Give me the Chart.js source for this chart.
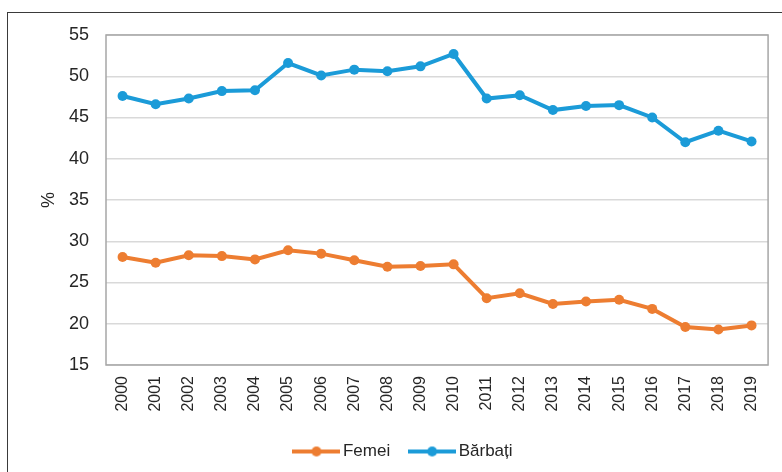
<!DOCTYPE html>
<html lang="ro">
<head>
<meta charset="utf-8">
<script src="https://cdn.jsdelivr.net/npm/chart.js@4.4.1/dist/chart.umd.min.js"></script>
<style>
  body { margin: 0; background: #fff; }
  #wrap { position: relative; width: 782px; height: 472px; }
  #frame { position: absolute; left: 7px; top: 12px; right: -2px; bottom: -2px;
           border-top: 1px solid #3a3a3a; border-left: 1px solid #3a3a3a; pointer-events: none; }
  canvas { position: absolute; left: 0; top: 0; }
</style>
</head>
<body>
<div id="wrap">
  <canvas id="grafic" width="782" height="472"></canvas>
  <div id="frame"></div>
</div>
<script>
// Ani si valori (%)
const ani = ['2000', '2001', '2002', '2003', '2004', '2005', '2006', '2007', '2008', '2009',
             '2010', '2011', '2012', '2013', '2014', '2015', '2016', '2017', '2018', '2019'];
const femei = [28.1, 27.4, 28.3, 28.2, 27.8, 28.9, 28.5, 27.7, 26.9, 27.0,
               27.2, 23.1, 23.7, 22.4, 22.7, 22.9, 21.8, 19.6, 19.3, 19.8];
const barbati = [47.6, 46.6, 47.3, 48.2, 48.3, 51.6, 50.1, 50.8, 50.6, 51.2,
                 52.7, 47.3, 47.7, 45.9, 46.4, 46.5, 45.0, 42.0, 43.4, 42.1];
const ticksY = [15, 20, 25, 30, 35, 40, 45, 50, 55];

const culoareFemei = '#ED7D31';
const culoareBarbati = '#1B9BD8';
const textColor = '#262626';

// marcaj legenda: linie + cerc
function markerLegenda(color) {
  const c = document.createElement('canvas');
  c.width = 48; c.height = 14;
  const g = c.getContext('2d');
  g.strokeStyle = color; g.lineWidth = 4;
  g.beginPath(); g.moveTo(0, 7); g.lineTo(48, 7); g.stroke();
  g.fillStyle = color;
  g.beginPath(); g.arc(24, 7, 5, 0, Math.PI * 2); g.fill();
  return c;
}

// chenarul zonei de desenare + legenda mutata putin spre dreapta
const chenar = {
  id: 'chenar',
  afterLayout(chart) {
    if (chart.legend) {
      chart.legend.left += 20;
      chart.legend.right += 20;
    }
  },
  afterDraw(chart) {
    const a = chart.chartArea, ctx = chart.ctx;
    ctx.save();
    ctx.strokeStyle = '#a6a6a6';
    ctx.lineWidth = 1.5;
    ctx.strokeRect(a.left, a.top, a.right - a.left, a.bottom - a.top);
    ctx.restore();
  }
};

const ctx = document.getElementById('grafic').getContext('2d');
new Chart(ctx, {
  type: 'line',
  data: {
    labels: ani,
    datasets: [
      {
        label: 'Femei',
        data: femei,
        borderColor: culoareFemei,
        backgroundColor: culoareFemei,
        borderWidth: 4,
        pointRadius: 5,
        pointBorderWidth: 0,
        tension: 0
      },
      {
        label: 'Bărbați',
        data: barbati,
        borderColor: culoareBarbati,
        backgroundColor: culoareBarbati,
        borderWidth: 4,
        pointRadius: 5,
        pointBorderWidth: 0,
        tension: 0
      }
    ]
  },
  options: {
    responsive: false,
    animation: false,
    layout: { padding: { top: 35, right: 11, left: 0, bottom: 2 } },
    scales: {
      x: {
        offset: true,
        grid: { display: false, drawTicks: false },
        border: { display: false },
        afterFit(scale) { scale.height = 54; },
        ticks: {
          color: textColor,
          minRotation: 90,
          maxRotation: 90,
          padding: 11,
          autoSkip: false,
          font: { family: '"Liberation Sans", Arial, sans-serif', size: 16 }
        }
      },
      y: {
        min: 15,
        max: 55,
        afterBuildTicks(scale) { scale.ticks = ticksY.map(v => ({ value: v })); },
        afterFit(scale) { scale.width = 106; },
        grid: { color: '#d9d9d9', lineWidth: 1.5, drawTicks: false },
        border: { display: false },
        ticks: {
          color: textColor,
          padding: 17,
          font: { family: '"Liberation Sans", Arial, sans-serif', size: 18 }
        },
        title: {
          display: true,
          text: '%',
          color: textColor,
          padding: { top: 38, bottom: 0 },
          font: { family: '"Liberation Sans", Arial, sans-serif', size: 18 }
        }
      }
    },
    plugins: {
      tooltip: { enabled: false },
      legend: {
        position: 'bottom',
        labels: {
          color: textColor,
          usePointStyle: true,
          pointStyleWidth: 36,
          padding: 24,
          font: { family: '"Liberation Sans", Arial, sans-serif', size: 17 },
          generateLabels(chart) {
            const items = Chart.defaults.plugins.legend.labels.generateLabels(chart);
            items.forEach(it => {
              it.pointStyle = markerLegenda(chart.data.datasets[it.datasetIndex].borderColor);
            });
            return items;
          }
        }
      }
    }
  },
  plugins: [chenar]
});
</script>
</body>
</html>
